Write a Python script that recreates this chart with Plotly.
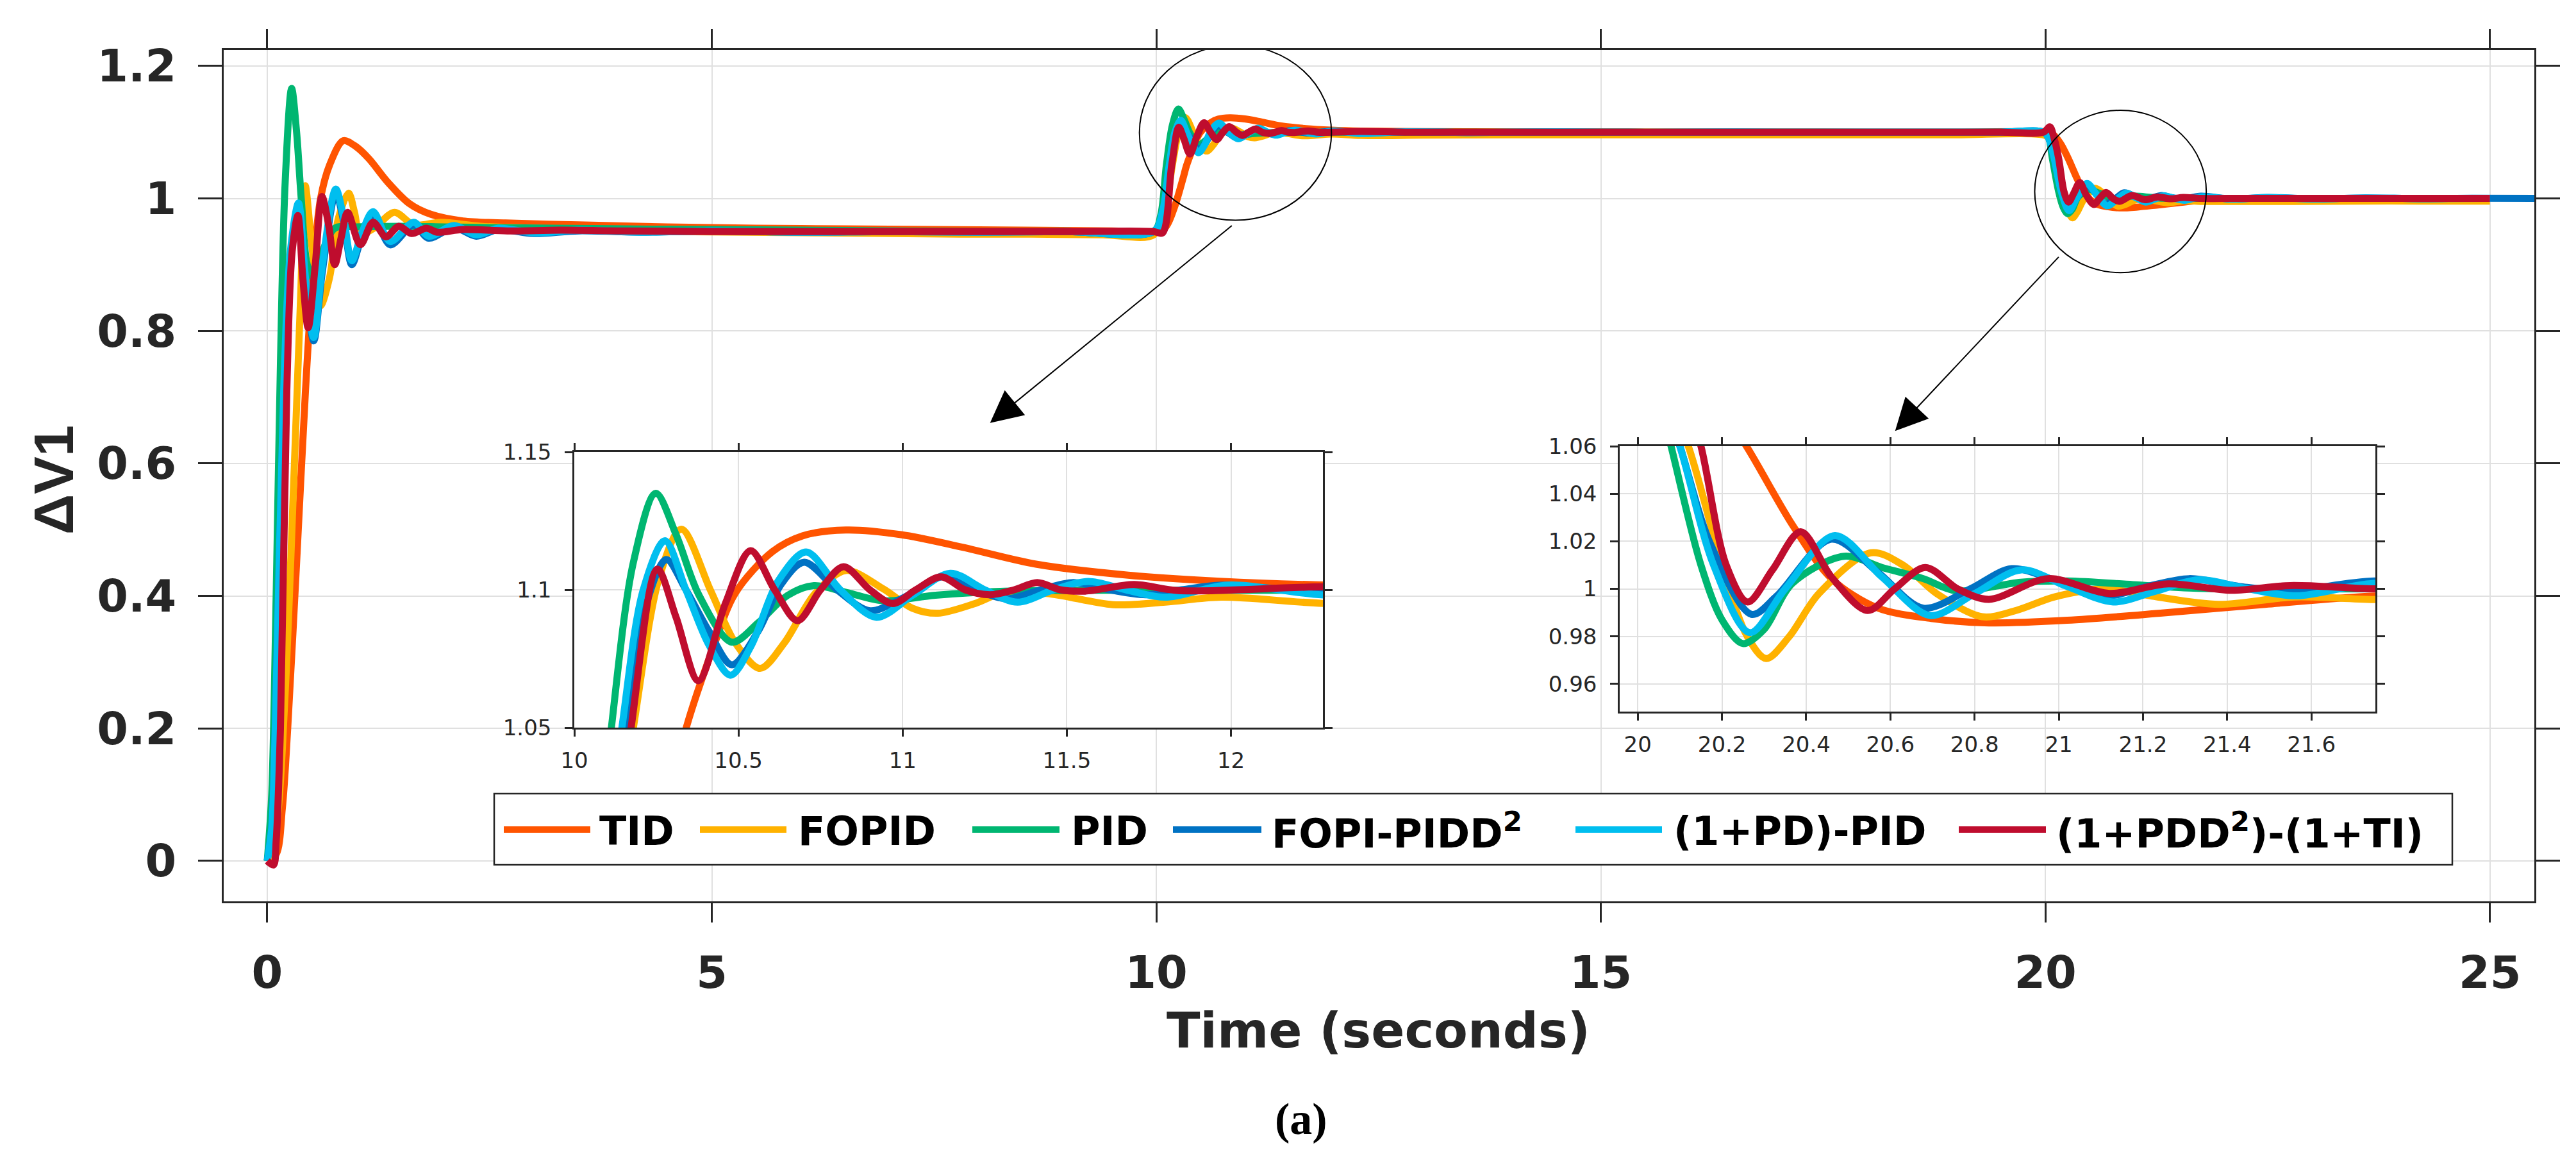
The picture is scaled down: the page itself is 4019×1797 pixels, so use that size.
import plotly.graph_objects as go

W, H = 4019, 1797

# step responses of delta V1 (time in seconds)
tid_t = [0, 0.1, 0.17, 0.23, 0.33, 0.43, 0.52, 0.6, 0.7, 0.855, 1.0, 1.143, 1.359, 1.6, 1.84, 2.2, 2.68, 3.5, 4.5, 5.5, 6.5, 7.5, 8.5, 9.5, 9.97,
         10.1, 10.2, 10.3, 10.341, 10.42, 10.49, 10.603, 10.696, 10.827, 10.995, 11.18, 11.406, 11.687, 11.967, 12.3, 13.0, 14.0, 15.0, 16.0, 17.0, 18.0, 19.0, 19.97,
         20.08, 20.17, 20.258, 20.367, 20.46, 20.569, 20.7, 20.834, 21.02, 21.25, 21.49, 21.75, 22.2, 22.8, 23.5, 24.2, 25.0]
tid_v = [0, 0.01, 0.08, 0.2, 0.45, 0.71, 0.9, 1.0, 1.05, 1.087, 1.078, 1.06, 1.024, 0.992, 0.976, 0.966, 0.963, 0.96, 0.957, 0.955, 0.954, 0.953, 0.952, 0.951, 0.95,
         0.956, 0.985, 1.03, 1.05, 1.078, 1.0987, 1.1138, 1.1196, 1.1217, 1.12, 1.1155, 1.1093, 1.1053, 1.1031, 1.1017, 1.1008, 1.1004, 1.1003, 1.1002, 1.1001, 1.1, 1.1, 1.1,
         1.097, 1.083, 1.06, 1.027, 1.0043, 0.992, 0.9875, 0.9857, 0.9868, 0.9899, 0.9935, 0.997, 0.998, 0.999, 0.9995, 1.0, 1.0]

fopid_t = [0, 0.1, 0.2, 0.3, 0.375, 0.427, 0.5, 0.598, 0.7, 0.8, 0.915, 0.98, 1.045, 1.2, 1.43, 1.65, 1.95, 2.4, 3.0, 3.8, 4.6, 5.4, 6.2, 7.0, 7.8, 8.6, 9.4, 9.97,
           10.1, 10.18, 10.26, 10.326, 10.416, 10.49, 10.566, 10.64, 10.733, 10.827, 10.94, 11.03, 11.107, 11.22, 11.31, 11.45, 11.64, 11.8, 11.97, 12.3, 13.0, 14.0, 15.0, 16.0, 17.0, 18.0, 19.0, 19.97,
           20.05, 20.12, 20.2, 20.26, 20.305, 20.36, 20.43, 20.554, 20.63, 20.71, 20.818, 20.9, 20.99, 21.11, 21.22, 21.38, 21.56, 21.75, 22.2, 22.8, 23.5, 24.2, 25.0]
fopid_v = [0, 0.05, 0.25, 0.58, 0.85, 1.019, 0.93, 0.838, 0.88, 0.97, 1.008, 0.98, 0.947, 0.955, 0.979, 0.96, 0.964, 0.958, 0.955, 0.952, 0.95, 0.949, 0.948, 0.947, 0.946, 0.946, 0.945, 0.945,
           0.985, 1.05, 1.105, 1.122, 1.0995, 1.0808, 1.0715, 1.0808, 1.0986, 1.107, 1.1004, 1.0933, 1.0915, 1.095, 1.0991, 1.0985, 1.0946, 1.0955, 1.0973, 1.095, 1.0955, 1.096, 1.096, 1.096, 1.096, 1.096, 1.096, 1.096,
           1.09, 1.06, 1.01, 0.98, 0.9707, 0.98, 0.998, 1.0152, 1.01, 0.998, 0.9883, 0.991, 0.9966, 1.0, 0.997, 0.9935, 0.9966, 0.9955, 0.9955, 0.9955, 0.996, 0.996, 0.996]

pid_t = [0, 0.05, 0.1, 0.148, 0.2, 0.274, 0.33, 0.382, 0.45, 0.52, 0.62, 0.76, 1.0, 1.5, 2.0, 2.5, 3.2, 4.0, 5.0, 6.0, 7.0, 8.0, 9.0, 9.97,
         10.05, 10.113, 10.18, 10.248, 10.31, 10.38, 10.48, 10.56, 10.65, 10.73, 10.83, 10.94, 11.1, 11.31, 11.6, 12.0, 12.5, 13.5, 14.5, 15.5, 16.5, 17.5, 18.5, 19.5, 19.98,
         20.03, 20.079, 20.15, 20.2, 20.25, 20.3, 20.367, 20.49, 20.58, 20.678, 20.756, 20.91, 21.02, 21.176, 21.33, 21.75, 22.2, 22.8, 23.5, 24.2, 25.0]
pid_v = [0, 0.1, 0.4, 0.75, 1.02, 1.166, 1.1, 1.0, 0.9, 0.88, 0.92, 0.955, 0.957, 0.958, 0.957, 0.956, 0.955, 0.954, 0.953, 0.952, 0.951, 0.95, 0.95, 0.95,
         0.975, 1.05, 1.11, 1.135, 1.12, 1.098, 1.081, 1.088, 1.098, 1.1015, 1.099, 1.096, 1.098, 1.0995, 1.0998, 1.0998, 1.0998, 1.0999, 1.1, 1.1, 1.1, 1.1, 1.1, 1.1, 1.1,
         1.095, 1.06, 1.01, 0.987, 0.977, 0.983, 1.0023, 1.0137, 1.009, 1.0043, 0.9992, 1.0028, 1.0033, 1.0018, 1.0002, 1.0, 1.0, 1.0, 1.0, 1.0, 1.0]

fopi_t = [0, 0.05, 0.09, 0.185, 0.26, 0.35, 0.43, 0.523, 0.62, 0.771, 0.86, 0.951, 1.07, 1.19, 1.383, 1.647, 1.815, 2.1, 2.35, 2.6, 3.0, 3.5, 4.2, 5.0, 6.0, 7.0, 8.0, 9.0, 9.97,
          10.08, 10.16, 10.22, 10.28, 10.34, 10.41, 10.48, 10.56, 10.63, 10.7, 10.8, 10.9, 11.0, 11.126, 11.22, 11.32, 11.42, 11.52, 11.63, 11.74, 11.85, 11.97, 12.3, 12.8, 13.5, 14.5, 15.5, 16.5, 17.5, 18.5, 19.5, 19.98,
          20.04, 20.1, 20.17, 20.27, 20.33, 20.46, 20.57, 20.678, 20.79, 20.888, 21.0, 21.114, 21.21, 21.31, 21.43, 21.55, 21.75, 22.1, 22.5, 23.0, 23.6, 24.2, 24.8, 25.5]
fopi_v = [0, 0.05, 0.2, 0.7, 0.91, 0.985, 0.87, 0.785, 0.89, 1.008, 0.965, 0.9, 0.945, 0.975, 0.93, 0.96, 0.94, 0.956, 0.943, 0.953, 0.947, 0.951, 0.949, 0.951, 0.949, 0.95, 0.949, 0.95, 0.95,
          0.98, 1.05, 1.095, 1.111, 1.1, 1.085, 1.0728, 1.085, 1.102, 1.11, 1.1, 1.0924, 1.097, 1.1048, 1.1, 1.0968, 1.1, 1.1026, 1.1, 1.0982, 1.1, 1.1017, 1.099, 1.1005, 1.0995, 1.1003, 1.0997, 1.1002, 1.0998, 1.1, 1.1, 1.1,
          1.09, 1.06, 1.02, 0.9893, 0.997, 1.0209, 1.007, 0.9919, 1.0, 1.0085, 1.003, 0.9971, 1.001, 1.0043, 1.001, 0.9992, 1.0033, 0.999, 1.0015, 0.9992, 1.0008, 0.9996, 1.0002, 1.0]

pdpid_t = [0, 0.05, 0.09, 0.185, 0.26, 0.351, 0.43, 0.523, 0.62, 0.771, 0.86, 0.951, 1.07, 1.19, 1.383, 1.647, 1.815, 2.1, 2.35, 2.6, 3.0, 3.5, 4.2, 5.0, 6.0, 7.0, 8.0, 9.0, 9.97,
           10.07, 10.145, 10.21, 10.276, 10.34, 10.41, 10.476, 10.54, 10.62, 10.706, 10.81, 10.92, 11.03, 11.145, 11.25, 11.35, 11.46, 11.565, 11.68, 11.8, 11.99, 12.3, 12.8, 13.5, 14.5, 15.5, 16.5, 17.5, 18.5, 19.5, 19.98,
           20.04, 20.1, 20.18, 20.266, 20.35, 20.468, 20.58, 20.694, 20.8, 20.911, 21.02, 21.129, 21.23, 21.331, 21.45, 21.565, 21.75, 22.1, 22.5, 23.0, 23.6, 24.2, 25.0]
pdpid_v = [0, 0.05, 0.2, 0.71, 0.92, 0.993, 0.88, 0.79, 0.9, 1.014, 0.97, 0.906, 0.95, 0.98, 0.935, 0.964, 0.943, 0.959, 0.945, 0.955, 0.948, 0.952, 0.949, 0.951, 0.949, 0.95, 0.949, 0.95, 0.95,
           0.98, 1.05, 1.1, 1.1178, 1.1, 1.08, 1.069, 1.08, 1.103, 1.1137, 1.1, 1.09, 1.098, 1.106, 1.1, 1.0955, 1.1, 1.103, 1.1, 1.0973, 1.1017, 1.098, 1.1007, 1.0995, 1.1003, 1.0997, 1.1002, 1.0998, 1.1, 1.1, 1.1,
           1.09, 1.06, 1.01, 0.9816, 1.0, 1.0224, 1.005, 0.9888, 0.998, 1.008, 1.001, 0.9945, 0.999, 1.0038, 1.0, 0.9971, 1.0023, 0.999, 1.0012, 0.9993, 1.0006, 0.9997, 1.0]

pdd_t = [0, 0.07, 0.1, 0.148, 0.22, 0.28, 0.345, 0.4, 0.46, 0.54, 0.615, 0.69, 0.759, 0.83, 0.903, 1.047, 1.19, 1.335, 1.479, 1.623, 1.79, 1.91, 2.2, 2.7, 3.3, 4.0, 5.0, 6.0, 7.0, 8.0, 9.0, 9.97,
         10.07, 10.173, 10.253, 10.31, 10.378, 10.46, 10.537, 10.61, 10.68, 10.75, 10.82, 10.9, 10.97, 11.04, 11.117, 11.19, 11.266, 11.34, 11.41, 11.48, 11.556, 11.705, 11.84, 12.3, 12.8, 13.5, 14.5, 15.5, 16.5, 17.5, 18.5, 19.5, 19.98,
         20.05, 20.1, 20.15, 20.21, 20.261, 20.32, 20.387, 20.46, 20.546, 20.61, 20.683, 20.76, 20.834, 20.974, 21.12, 21.26, 21.41, 21.55, 21.75, 22.2, 22.8, 23.5, 24.2, 25.0]
pdd_v = [0, -0.006, 0.03, 0.2, 0.71, 0.92, 0.974, 0.88, 0.805, 0.9, 1.003, 0.96, 0.9, 0.94, 0.979, 0.93, 0.964, 0.942, 0.958, 0.947, 0.955, 0.949, 0.953, 0.951, 0.952, 0.951, 0.95, 0.95, 0.95, 0.95, 0.95, 0.95,
         0.948, 1.05, 1.1075, 1.09, 1.067, 1.095, 1.1142, 1.1, 1.0888, 1.1, 1.1084, 1.1, 1.095, 1.1, 1.1047, 1.1, 1.0982, 1.1, 1.1026, 1.1, 1.0995, 1.1019, 1.0997, 1.1011, 1.1, 1.1, 1.1, 1.1, 1.1, 1.1, 1.1, 1.1, 1.1,
         1.108, 1.09, 1.06, 1.01, 0.9945, 1.008, 1.024, 1.005, 0.9909, 1.0, 1.009, 1.0, 0.9956, 1.0043, 0.9981, 1.0021, 0.9994, 1.0014, 1.0, 1.0, 1.0, 1.0, 1.0, 1.0]

names = ["TID", "FOPID", "PID", "FOPI-PIDD<sup>2</sup>", "(1+PD)-PID", "(1+PDD<sup>2</sup>)-(1+TI)"]
colors = ["#FF5400", "#FFB200", "#00B671", "#0072C3", "#00BEEF", "#BF0D2E"]
times = [tid_t, fopid_t, pid_t, fopi_t, pdpid_t, pdd_t]
values = [tid_v, fopid_v, pid_v, fopi_v, pdpid_v, pdd_v]


def px(x):
    return x / W


def py(y):
    return 1 - y / H


fig = go.Figure()
for name, col, t, v in zip(names, colors, times, values):
    for xa, ya in [("x", "y"), ("x2", "y2"), ("x3", "y3")]:
        fig.add_trace(go.Scatter(x=t, y=v, name=name, xaxis=xa, yaxis=ya, mode="lines",
                                 line=dict(color=col, width=11, shape="spline", smoothing=0.9),
                                 showlegend=False))

axcol = "#262626"
bigfont = dict(family="DejaVu Sans", size=70, color=axcol, weight="bold")
smallfont = dict(family="DejaVu Sans", size=34, color=axcol)
common = dict(showline=True, linecolor=axcol, linewidth=2.5, mirror="allticks",
              ticks="outside", tickcolor=axcol, tickwidth=2.5, automargin=False,
              showgrid=True, gridcolor="#e0e0e0", gridwidth=2, zeroline=False)

fig.update_layout(
    width=W, height=H, margin=dict(l=0, r=0, t=0, b=0, pad=0, autoexpand=False),
    paper_bgcolor="white", plot_bgcolor="white", showlegend=False,
    xaxis=dict(domain=[px(341), px(3946)], range=[-0.49, 25.5], dtick=5, tick0=0,
               ticklen=30, tickfont=bigfont, ticklabelstandoff=18, anchor="y", **common),
    yaxis=dict(domain=[py(1398), py(70)], range=[-0.061, 1.224], dtick=0.2, tick0=0,
               ticklen=37, tickfont=bigfont, ticklabelstandoff=20, anchor="x", **common),
    xaxis2=dict(domain=[px(888), px(2056)], range=[10, 12.28], dtick=0.5, tick0=10,
                ticklen=11, tickfont=smallfont, ticklabelstandoff=8, anchor="y2", **common),
    yaxis2=dict(domain=[py(1127), py(697)], range=[1.05, 1.15], dtick=0.05, tick0=1.05,
                ticklen=12, tickfont=smallfont, ticklabelstandoff=14, anchor="x2", **common),
    xaxis3=dict(domain=[px(2519), px(3698)], range=[19.957, 21.752], dtick=0.2, tick0=20,
                ticklen=11, tickfont=smallfont, ticklabelstandoff=8, anchor="y3", **common),
    yaxis3=dict(domain=[py(1102), py(688)], range=[0.9484, 1.06], dtick=0.02, tick0=0.96,
                ticklen=12, tickfont=smallfont, ticklabelstandoff=14, anchor="x3", **common),
)

shapes = [
    dict(type="circle", xref="x", yref="y", x0=9.81, x1=11.97, y0=0.967, y1=1.2315,
         line=dict(color="black", width=2)),
    dict(type="circle", xref="x", yref="y", x0=19.88, x1=21.81, y0=0.888, y1=1.133,
         line=dict(color="black", width=2)),
    # legend box
    dict(type="rect", xref="paper", yref="paper", x0=px(763), x1=px(3818), y0=py(1341), y1=py(1230),
         line=dict(color=axcol, width=2.5), fillcolor="white", layer="above"),
]

annotations = [
    dict(x=8.13, y=0.661, ax=10.86, ay=0.960, xref="x", yref="y", axref="x", ayref="y",
         showarrow=True, arrowhead=2, arrowsize=5, arrowwidth=2, arrowcolor="black", text=""),
    dict(x=18.31, y=0.649, ax=20.16, ay=0.913, xref="x", yref="y", axref="x", ayref="y",
         showarrow=True, arrowhead=2, arrowsize=5, arrowwidth=2, arrowcolor="black", text=""),
    dict(x=px(2142), y=py(1599), xref="paper", yref="paper", text="Time (seconds)", showarrow=False,
         xanchor="center", yanchor="middle",
         font=dict(family="DejaVu Sans", size=77, color=axcol, weight="bold")),
    dict(x=px(75), y=py(741), xref="paper", yref="paper", text="ΔV1", showarrow=False, textangle=-90,
         xanchor="center", yanchor="middle",
         font=dict(family="Liberation Sans", size=88, color=axcol, weight="bold")),
    dict(x=px(2022), y=py(1737), xref="paper", yref="paper", text="(a)", showarrow=False,
         xanchor="center", yanchor="middle",
         font=dict(family="Liberation Serif", size=70, color="black", weight="bold")),
]

# hand-drawn legend, matching the reference layout
leg_lines = [(778, 913), (1084, 1219), (1509, 1645), (1822, 1960), (2450, 2585), (3048, 3184)]
leg_text_x = [925, 1235, 1661, 1974, 2601, 3198]
for (a, b), tx, name, col in zip(leg_lines, leg_text_x, names, colors):
    shapes.append(dict(type="line", xref="paper", yref="paper", x0=px(a), x1=px(b), y0=py(1286), y1=py(1286),
                       line=dict(color=col, width=10), layer="above"))
    annotations.append(dict(x=px(tx), y=py(1288), xref="paper", yref="paper", text=name, showarrow=False,
                            xanchor="left", yanchor="middle",
                            font=dict(family="DejaVu Sans", size=62, color="black", weight="bold")))

fig.update_layout(shapes=shapes, annotations=annotations)
fig.write_html("out.html")
